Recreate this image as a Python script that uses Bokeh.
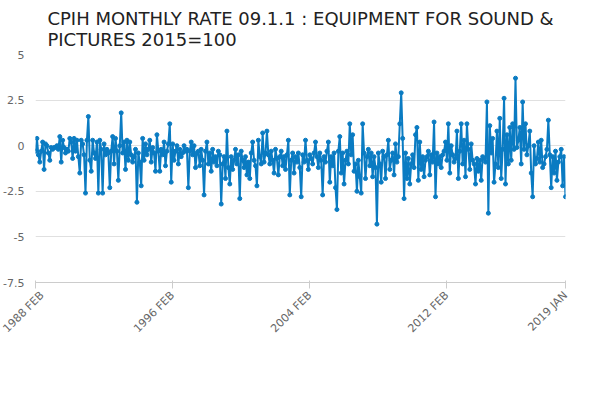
import math
from bokeh.plotting import figure
from bokeh.models import FixedTicker, Range1d, Legend, LegendItem, Title
from bokeh.embed import file_html
from bokeh.resources import INLINE

values = [
-0.3,0.4,-0.5,-0.9,-0.3,0.2,-1.3,0.1,0.0,-0.4,-0.8,-0.1,
-0.2,-0.1,-0.1,0.0,-0.2,0.5,-0.9,0.3,-0.1,-0.4,-0.2,-0.3,
0.4,0.2,-0.7,0.4,-0.3,0.3,-0.6,-1.5,0.3,0.1,-0.5,-2.6,
0.3,1.6,-0.8,-1.4,0.3,-0.4,-0.7,0.2,-2.6,0.3,-0.2,-2.6,
0.1,-0.5,-0.2,-0.4,-2.3,-0.3,0.5,-1.0,0.4,-0.3,-1.9,0.0,
1.8,-0.4,0.2,-1.3,0.3,-0.8,0.2,-0.5,-0.9,-0.6,-0.2,-3.1,
-0.4,-0.9,-2.2,0.4,-0.8,0.1,-0.5,-0.2,0.3,-0.9,-0.1,-0.4,
-1.4,0.6,-0.3,-1.4,-0.2,-0.5,0.2,-1.1,-0.3,0.1,1.2,-2.0,
0.1,-0.8,-0.3,0.0,-1.0,-0.2,-0.6,-0.4,0.0,-0.3,-0.2,-2.3,
-0.3,0.2,-0.5,0.0,-1.2,-0.4,-0.3,-1.1,-0.2,-0.8,-2.7,-0.3,
0.2,-1.0,-0.4,-1.4,-0.2,-0.9,-0.6,-1.1,-0.3,-0.5,-3.2,-1.0,
-0.6,-1.8,0.8,-1.2,-2.1,-0.6,-1.3,-0.8,-0.2,-1.0,-0.5,-2.9,
-0.3,-0.8,-1.2,-0.6,-1.6,-0.9,-1.8,-0.4,0.2,-0.8,-1.1,-2.2,
0.3,-0.6,-1.0,0.7,-0.9,-0.4,0.8,-0.5,-1.0,-0.3,-0.8,-1.5,
-0.2,-0.7,-1.6,-0.6,-0.3,-1.1,-0.6,-1.3,-0.5,0.3,-2.7,-0.8,
-0.4,-1.5,-0.6,-0.9,-0.4,-1.2,-2.8,-0.5,-0.9,0.3,-0.8,-1.3,
-0.5,-0.7,-1.0,-0.4,0.2,-0.6,-1.2,-0.4,-0.8,-2.7,-0.6,-0.9,
-0.3,0.2,-2.0,-0.6,-1.1,-0.4,-2.3,-3.5,-0.3,0.5,-1.5,-0.4,
-2.1,-0.8,-0.3,-1.0,1.2,-0.5,0.6,-1.4,-1.0,-2.5,-0.8,-1.7,
-2.6,1.2,-0.4,-1.8,-0.6,-0.2,-1.1,-0.4,-1.7,-0.6,-1.2,-4.3,
-0.4,-1.0,-2.0,-0.3,-0.6,-1.8,-0.5,0.3,-1.3,-0.8,-0.4,-1.6,
0.1,-0.9,-0.6,1.2,2.9,0.4,-2.9,-0.4,-1.8,-0.7,-2.1,-1.0,
-0.5,-1.2,0.6,1.0,-1.9,0.2,-1.3,-0.6,-1.7,-0.8,-0.6,-0.3,
-1.6,-0.5,-0.9,1.3,-2.8,-0.4,-1.0,-0.6,-1.2,-0.5,-0.3,0.2,
-0.8,1.2,-1.5,0.0,-0.5,-0.9,-0.7,0.8,-1.8,-0.3,1.2,-1.0,
0.3,-1.7,1.2,-0.2,-1.3,0.1,-0.8,-1.0,-2.1,-0.7,-1.4,-0.8,
-1.9,-0.6,-0.7,-0.9,2.4,-3.7,1.1,-0.4,0.4,-2.0,-1.0,0.8,
-1.2,1.5,-1.8,-0.2,2.6,-2.1,0.6,-1.0,1.0,-0.8,1.2,-0.2,
3.7,-0.1,0.3,1.0,-1.0,2.4,-0.2,1.2,-0.5,0.0,0.8,-1.5,
-2.8,0.0,-1.0,-0.7,0.2,-0.9,0.3,-1.2,-1.0,-0.6,-0.2,1.4,
-0.5,-2.3,-0.6,-1.5,-0.3,-1.9,-0.9,-0.6,-0.2,-2.2,-0.6,-2.8,
]
tick_positions = [0, 96, 192, 288, 371]
tick_labels = ["1988 FEB", "1996 FEB", "2004 FEB", "2012 FEB", "2019 JAN"]
y_ticks = [-7.5, -5, -2.5, 0, 2.5, 5]
y_labels = ["-7.5", "-5", "-2.5", "0", "2.5", "5"]
series_name = "CPIH MONTHLY RATE 09.1.1 : EQUIPMENT FOR SOUND & PICTURES 2015=100"

x = list(range(len(values)))
color = "#0a7bc2"
font = "DejaVu Sans"

p = figure(frame_width=530, frame_height=228, output_backend="svg", toolbar_location=None,
           x_range=Range1d(0, len(values) - 1), y_range=Range1d(-7.5, 5),
           min_border_left=8, min_border_right=8, min_border_top=4, min_border_bottom=0)
p.title.text = "CPIH MONTHLY RATE 09.1.1 : EQUIPMENT FOR SOUND &\nPICTURES 2015=100"
p.title.align = "center"
p.title.text_font = font
p.title.text_font_size = "18px"
p.title.text_font_style = "normal"
p.title.text_color = "#222222"

l = p.line(x, values, line_color=color, line_width=2)
c = p.scatter(x, values, size=4, fill_color=color, line_color=color)

p.outline_line_color = None
p.xgrid.grid_line_color = None
p.ygrid.grid_line_color = "#e0e0e0"
p.ygrid.ticker = FixedTicker(ticks=y_ticks)
p.yaxis.ticker = FixedTicker(ticks=y_ticks)
p.yaxis.major_label_overrides = dict(zip(y_ticks, y_labels))
p.yaxis.axis_line_color = None
p.yaxis.major_tick_line_color = None
p.yaxis.minor_tick_line_color = None
p.xaxis.ticker = FixedTicker(ticks=tick_positions)
p.xaxis.major_label_overrides = dict(zip(tick_positions, tick_labels))
p.xaxis.major_label_orientation = math.pi / 4
p.xaxis.axis_line_color = "#cccccc"
p.xaxis.major_tick_line_color = "#cccccc"
p.xaxis.minor_tick_line_color = None
for ax in (p.xaxis, p.yaxis):
    ax.major_label_text_font = font
    ax.major_label_text_font_size = "11px"
    ax.major_label_text_color = "#666666"

legend = Legend(items=[LegendItem(label=series_name, renderers=[l, c])],
                location="center", orientation="horizontal",
                label_text_font=font, label_text_font_size="11px",
                label_text_font_style="bold", label_text_color="#333333",
                border_line_color=None, glyph_width=20, padding=0, margin=2)
p.add_layout(legend, "below")
p.add_layout(Title(text="Source:", align="right", text_font=font,
                   text_font_size="11px", text_font_style="normal",
                   text_color="#666666"), "below")

open("out.html", "w").write(file_html(p, INLINE))
